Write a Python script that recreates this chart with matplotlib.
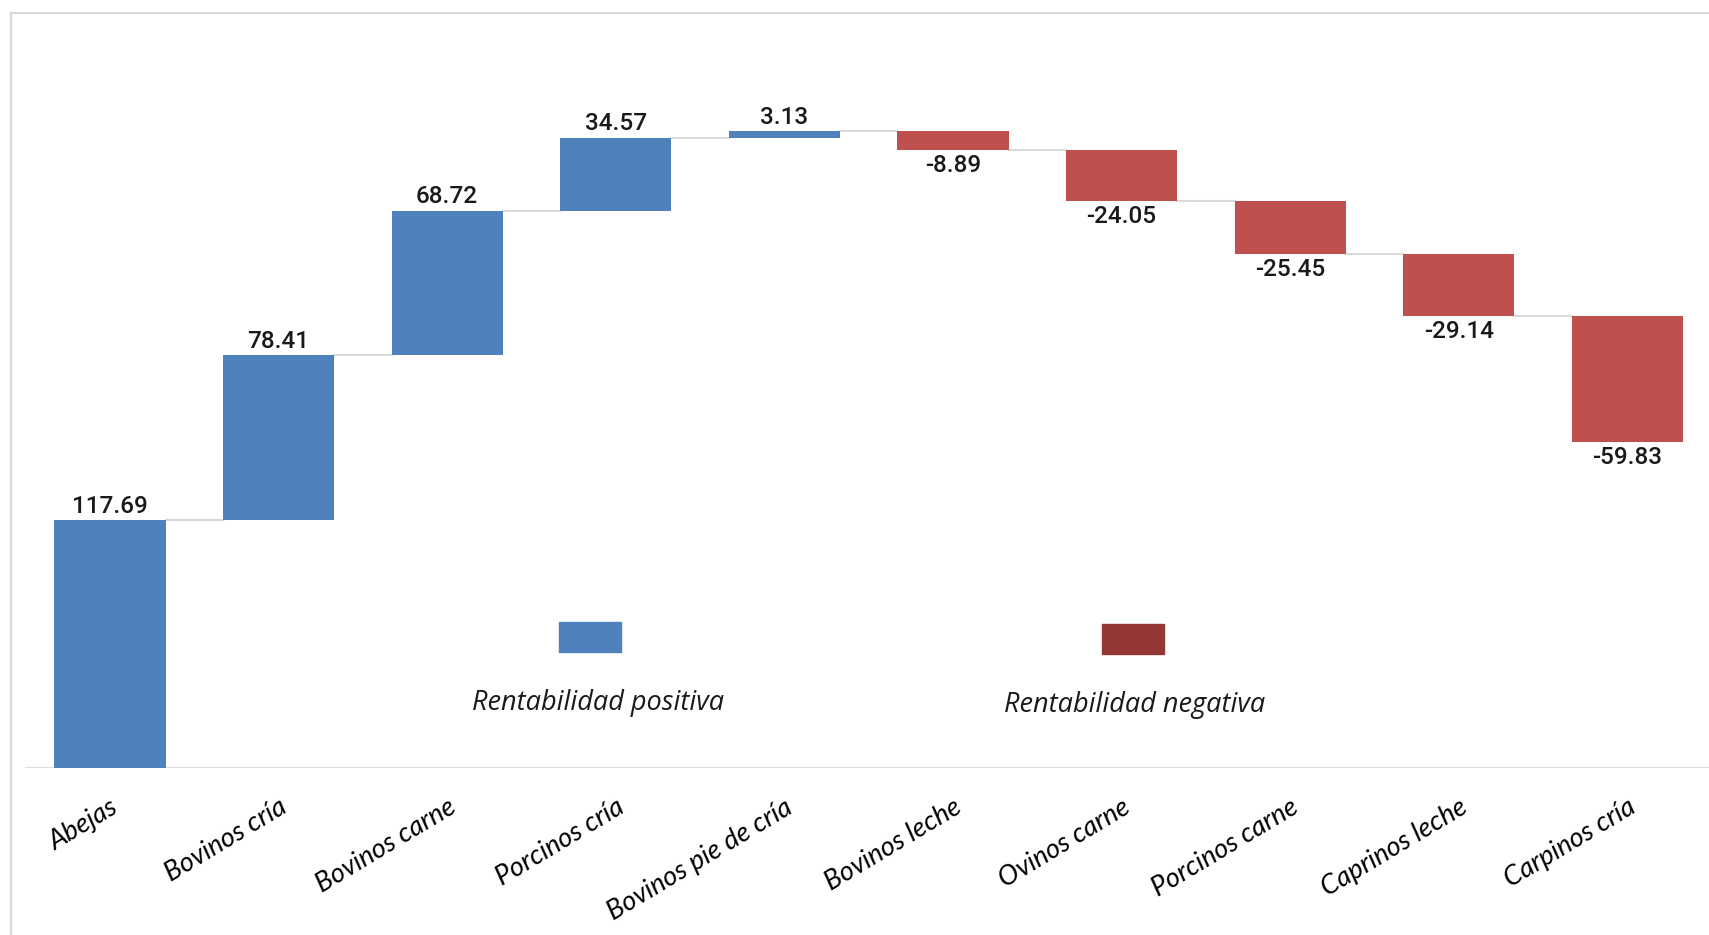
import matplotlib.pyplot as plt
from matplotlib.patches import Rectangle
import numpy as np

categorias = ["Abejas", "Bovinos cría", "Bovinos carne", "Porcinos cría",
              "Bovinos pie de cría", "Bovinos leche", "Ovinos carne",
              "Porcinos carne", "Caprinos leche", "Carpinos cría"]
valores = [117.69, 78.41, 68.72, 34.57, 3.13,
           -8.89, -24.05, -25.45, -29.14, -59.83]
leyenda = ["Rentabilidad positiva", "Rentabilidad negativa"]

azul = '#4F81BD'
rojo = '#C0504D'
rojo_ley = '#953735'
gris = '#D9D9D9'

vals = np.array(valores)
fin = np.cumsum(vals)
ini = fin - vals
x = np.arange(len(vals))
w = 0.66

fig = plt.figure(figsize=(17.09, 9.35), dpi=100)
ax = fig.add_axes([0.0146, 0.1786, 0.9854, 0.8075])

colores = [azul if v > 0 else rojo for v in vals]
ax.bar(x, vals, bottom=ini, width=w, color=colores, edgecolor='none', zorder=3)

# conectores entre barras
for i in range(len(vals) - 1):
    ax.plot([x[i] + w / 2, x[i + 1] - w / 2], [fin[i], fin[i]],
            color=gris, lw=1.5, zorder=2)

# etiquetas de valor
for i, v in enumerate(vals):
    if v > 0:
        ax.annotate(f'{v:.2f}', (x[i], fin[i]), xytext=(0, 2),
                    textcoords='offset points', ha='center', va='bottom',
                    fontsize=17.5, family='Roboto', fontweight='medium',
                    color='#1a1a1a')
    else:
        ax.annotate(f'{v:.2f}', (x[i], fin[i]), xytext=(0, -3),
                    textcoords='offset points', ha='center', va='top',
                    fontsize=17.5, family='Roboto', fontweight='medium',
                    color='#1a1a1a')

ax.axhline(0, color=gris, lw=2, zorder=1)
ax.set_xlim(-0.504, 9.484)
ax.set_ylim(0, 358.8)
ax.set_yticks([])
ax.set_xticks(x)
ax.set_xticklabels(categorias, rotation=31, ha='right', rotation_mode='anchor',
                   fontsize=19.5, family='Lato', style='italic')
ax.tick_params(axis='x', length=0, pad=19)
for s in ax.spines.values():
    s.set_visible(False)
ax.patch.set_alpha(0)

# marco gris
fig.patches.append(Rectangle((11 / 1709, -0.2), 1.2, 1.2 - 13 / 935,
                             transform=fig.transFigure, fill=False,
                             edgecolor=gris, lw=1.5, zorder=0))

# leyenda
fig.patches.append(Rectangle((559 / 1709, 1 - 652 / 935), 62 / 1709, 30 / 935,
                             transform=fig.transFigure, color=azul))
fig.patches.append(Rectangle((1102 / 1709, 1 - 654 / 935), 62 / 1709, 30 / 935,
                             transform=fig.transFigure, color=rojo_ley))
fig.text(598 / 1709, 1 - 703 / 935, leyenda[0], ha='center', va='center',
         fontsize=19.5, family='Open Sans', style='italic', color='#1a1a1a')
fig.text(1135 / 1709, 1 - 705 / 935, leyenda[1], ha='center', va='center',
         fontsize=19.5, family='Open Sans', style='italic', color='#1a1a1a')

plt.savefig('out.png', dpi=100)
